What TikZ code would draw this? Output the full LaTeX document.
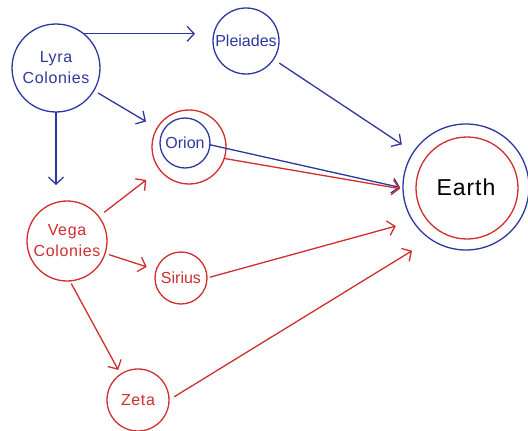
\documentclass[tikz,border=0pt]{standalone}
\usepackage{fontspec}
\setmainfont{Liberation Sans}
\usetikzlibrary{arrows.meta}
\definecolor{pblue}{RGB}{45,55,160}
\definecolor{pred}{RGB}{208,45,45}
\begin{document}
\begin{tikzpicture}[x=1pt,y=-1pt,
  circ/.style={circle, draw, line width=1.3pt, inner sep=0pt, outer sep=0pt, align=center},
  bluecirc/.style={circ, draw=pblue, text=pblue},
  redcirc/.style={circ, draw=pred, text=pred},
  lbl/.style={font=\fontsize{16}{21}\selectfont\addfontfeature{LetterSpace=4}},
  smalllbl/.style={font=\fontsize{16}{19}\selectfont},
  arr/.style={line width=1.3pt, -{Straight Barb[length=7pt,width=15pt,line width=1.3pt]}},
  barr/.style={arr, pblue},
  rarr/.style={arr, pred},
]
\useasboundingbox (0,0) rectangle (528,431);
% nodes
\node[bluecirc, lbl, minimum size=88pt] (lyra) at (56,68) {Lyra\\Colonies};
\node[bluecirc, smalllbl, minimum size=66pt] (pleiades) at (246,41) {Pleiades};
\node[redcirc, minimum size=74pt] (orionout) at (189,147) {};
\node[bluecirc, smalllbl, minimum size=50pt] (orionin) at (185,143) {Orion};
\node[bluecirc, text=black, minimum size=126pt, font=\fontsize{23}{27}\selectfont\addfontfeature{LetterSpace=4}] (earth) at (466,187) {Earth};
\node[redcirc, minimum size=102pt] (earthin) at (467,188) {};
\node[redcirc, lbl, minimum size=80pt] (vega) at (67,241) {Vega\\Colonies};
\node[redcirc, smalllbl, minimum size=52pt] (sirius) at (181,278) {Sirius};
\node[redcirc, lbl, minimum size=62pt] (zeta) at (138,400) {Zeta};
% blue connectors
\draw[barr, shorten >=18pt] (lyra.51) -- (lyra.51 -| pleiades.west);
\draw[barr, shorten <=5pt, shorten >=13pt] (lyra) -- (orionout);
\draw[barr, shorten >=16pt] (lyra.south) -- (lyra.south |- vega.north);
\draw[barr, shorten <=7pt, shorten >=14pt] (pleiades) -- (earth);
\draw[barr, shorten >=3pt] (orionin.-4) -- (earth.181);
% red connectors
\draw[rarr, shorten >=3pt] (orionout.-18) -- (earth.182);
\draw[rarr, shorten <=7pt, shorten >=17pt] (vega) -- (orionout);
\draw[rarr, shorten <=4pt, shorten >=10pt] (vega) -- (sirius);
\draw[rarr, shorten <=3pt, shorten >=5pt] (vega.-86) -- (zeta.124.5);
\draw[rarr, shorten <=3pt, shorten >=18pt] (sirius.east) -- (earth.213);
\draw[rarr, shorten <=6pt, shorten >=22pt] (zeta.east) -- (earth.236);
\end{tikzpicture}
\end{document}
